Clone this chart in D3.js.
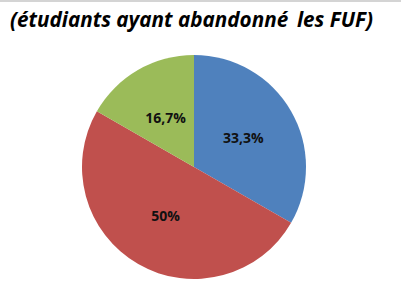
<!DOCTYPE html>
<html>
<head>
<meta charset="utf-8">
<script src="https://cdn.jsdelivr.net/npm/d3@7"></script>
<style>
  html, body { margin: 0; padding: 0; background: #fff; }
  svg { display: block; }
</style>
</head>
<body>
<svg id="chart" width="401" height="287"></svg>
<script>
// donnees du camembert
var categories = ['A', 'B', 'C'];
var values = [33.3, 50, 16.7];
var labels = ['33,3%', '50%', '16,7%'];
var colors = ['#4f81bd', '#c0504d', '#9bbb59'];
var title = '(étudiants ayant abandonné \u2009les FUF)';

var svg = d3.select('#chart');
var W = 401, H = 287;
var cx = 194, cy = 167, R = 112;

// trait gris en haut
svg.append('rect')
    .attr('x', 0).attr('y', 0)
    .attr('width', W).attr('height', 2)
    .attr('fill', '#d4d4d4');

svg.append('text')
    .attr('x', 10)
    .attr('y', 27)
    .style('font-family', '"Open Sans", sans-serif')
    .style('font-weight', 'bold')
    .style('font-style', 'italic')
    .style('font-size', '22px')
    .attr('textLength', 363)
    .attr('lengthAdjust', 'spacingAndGlyphs')
    .attr('fill', '#000')
    .style('white-space', 'pre')
    .text(title);

var pie = d3.pie().sort(null).value(function(d, i) { return values[i]; });
var arcs = pie(categories);

var arc = d3.arc().innerRadius(0).outerRadius(R);
var labelArc = d3.arc().innerRadius(57).outerRadius(57);

var g = svg.append('g').attr('transform', 'translate(' + cx + ',' + cy + ')');

g.selectAll('path')
    .data(arcs)
    .enter().append('path')
    .attr('d', arc)
    .attr('fill', function(d, i) { return colors[i]; });

g.selectAll('text')
    .data(arcs)
    .enter().append('text')
    .attr('transform', function(d) { return 'translate(' + labelArc.centroid(d) + ')'; })
    .attr('text-anchor', 'middle')
    .attr('dy', '0.36em')
    .style('font-family', '"Open Sans", sans-serif')
    .style('font-weight', 'bold')
    .style('font-size', '14px')
    .attr('fill', '#111')
    .text(function(d, i) { return labels[i]; });
</script>
</body>
</html>
